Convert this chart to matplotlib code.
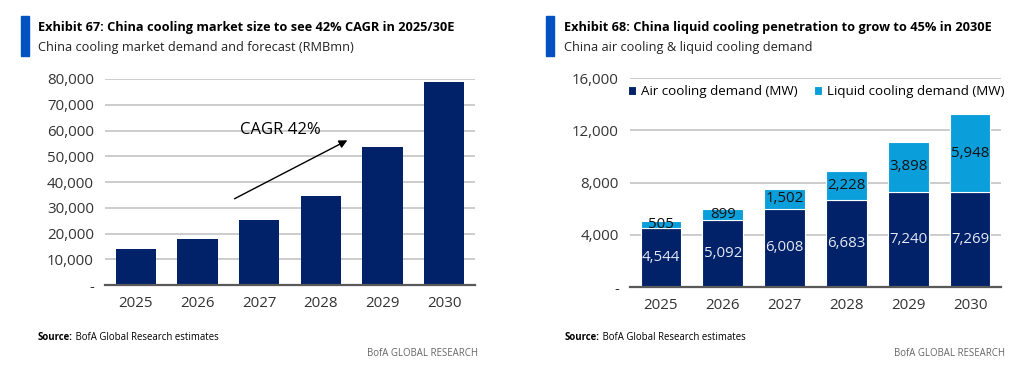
import numpy as np
import matplotlib
matplotlib.use('Agg')
import matplotlib.pyplot as plt
from matplotlib.ticker import FuncFormatter

plt.rcParams['font.family'] = ['Open Sans', 'DejaVu Sans']

# data
years = ['2025', '2026', '2027', '2028', '2029', '2030']
market_size = [13900, 17800, 25100, 34400, 53600, 78700]   # RMBmn
air_demand = [4544, 5092, 6008, 6683, 7240, 7269]           # MW
liquid_demand = [505, 899, 1502, 2228, 3898, 5948]          # MW
left_ticks = [0, 10000, 20000, 30000, 40000, 50000, 60000, 70000, 80000]
right_ticks = [0, 4000, 8000, 12000, 16000]

navy = '#012169'
light = '#0A9FDB'
accent = '#0052C2'
grid_c = '#C4C4C4'
W, H = 1024, 379

def fmt(v, pos=None):
    return '-' if v == 0 else '{:,.0f}'.format(v)

def px_axes(fig, x0, x1, ytop, ybot):
    return fig.add_axes([x0 / W, (H - ybot) / H, (x1 - x0) / W, (ybot - ytop) / H])

def style(ax, ticks):
    ax.set_yticks(ticks)
    ax.yaxis.set_major_formatter(FuncFormatter(fmt))
    ax.set_ylim(ticks[0], ticks[-1])
    ax.set_xlim(-0.5, len(years) - 0.5)
    ax.set_xticks(range(len(years)))
    ax.set_xticklabels(years)
    ax.grid(axis='y', color=grid_c, lw=1.2)
    ax.set_axisbelow(True)
    for s in ['top', 'right', 'left']:
        ax.spines[s].set_visible(False)
    ax.spines['bottom'].set_color('#595959')
    ax.spines['bottom'].set_linewidth(1.6)
    ax.spines['bottom'].set_zorder(5)
    ax.tick_params(length=0, labelsize=10.8, colors='#333333')
    ax.tick_params(axis='x', pad=8)
    ax.tick_params(axis='y', pad=8)

def header(fig, x, bar_x, title, sub):
    fig.patches.append(plt.Rectangle((bar_x / W, (H - 56) / H), 8 / W, 40 / H,
                                     transform=fig.transFigure, color=accent))
    fig.text(x / W, (H - 27) / H, title, fontsize=9.2, fontweight='bold',
             va='center', color='black')
    fig.text(x / W, (H - 47) / H, sub, fontsize=9.2, va='center', color='#222222')

def footer(fig, x, xr):
    t = fig.text(x / W, (H - 337) / H, 'Source:', fontsize=6.9, fontweight='bold',
                 va='center', color='black')
    fig.add_artist(plt.Annotation(' BofA Global Research estimates', xy=(1, 0.5),
                                  xycoords=t, va='center', fontsize=6.9,
                                  color='black'))
    fig.text(xr / W, (H - 353) / H, 'BofA GLOBAL RESEARCH', fontsize=6.9,
             va='center', ha='right', color='#666666')

fig = plt.figure(figsize=(W / 100, H / 100), dpi=100)

# left chart
ax1 = px_axes(fig, 105, 475, 79, 285)
x = np.arange(len(years))
ax1.bar(x, market_size, width=0.65, color=navy, zorder=3)
style(ax1, left_ticks)
ax1.annotate('', xy=(3.47, 56700), xytext=(1.56, 33000),
             arrowprops=dict(arrowstyle='-|>', color='black', lw=1.0,
                             mutation_scale=12))
ax1.text(2.35, 60200, 'CAGR 42%', fontsize=12, ha='center', va='center')

header(fig, 38, 21, 'Exhibit 67: China cooling market size to see 42% CAGR in 2025/30E',
       'China cooling market demand and forecast (RMBmn)')
footer(fig, 38, 478)

# right chart
ax2 = px_axes(fig, 630, 1001, 78, 287)
ax2.bar(x, air_demand, width=0.66, color=navy, edgecolor='white',
        linewidth=0.8, zorder=3, label='Air cooling demand (MW)')
ax2.bar(x, liquid_demand, bottom=air_demand, width=0.66, color=light,
        edgecolor='white', linewidth=0.8, zorder=3,
        label='Liquid cooling demand (MW)')
style(ax2, right_ticks)
for i in range(len(years)):
    ax2.text(x[i], air_demand[i] / 2, '{:,}'.format(air_demand[i]), ha='center',
             va='center', color='#E6E8F2', fontsize=10.8, zorder=4)
    ax2.text(x[i], air_demand[i] + liquid_demand[i] / 2, '{:,}'.format(liquid_demand[i]),
             ha='center', va='center', color='#111111', fontsize=10.8, zorder=4)
ax2.legend(loc='upper left', bbox_to_anchor=(-0.02, 0.99), ncol=2, frameon=False,
           fontsize=9.6, handlelength=0.6, handleheight=0.6, handletextpad=0.4,
           columnspacing=1.2, borderaxespad=0)

header(fig, 564, 546, 'Exhibit 68: China liquid cooling penetration to grow to 45% in 2030E',
       'China air cooling & liquid cooling demand')
footer(fig, 565, 1005)

fig.savefig('out.png', dpi=100)
